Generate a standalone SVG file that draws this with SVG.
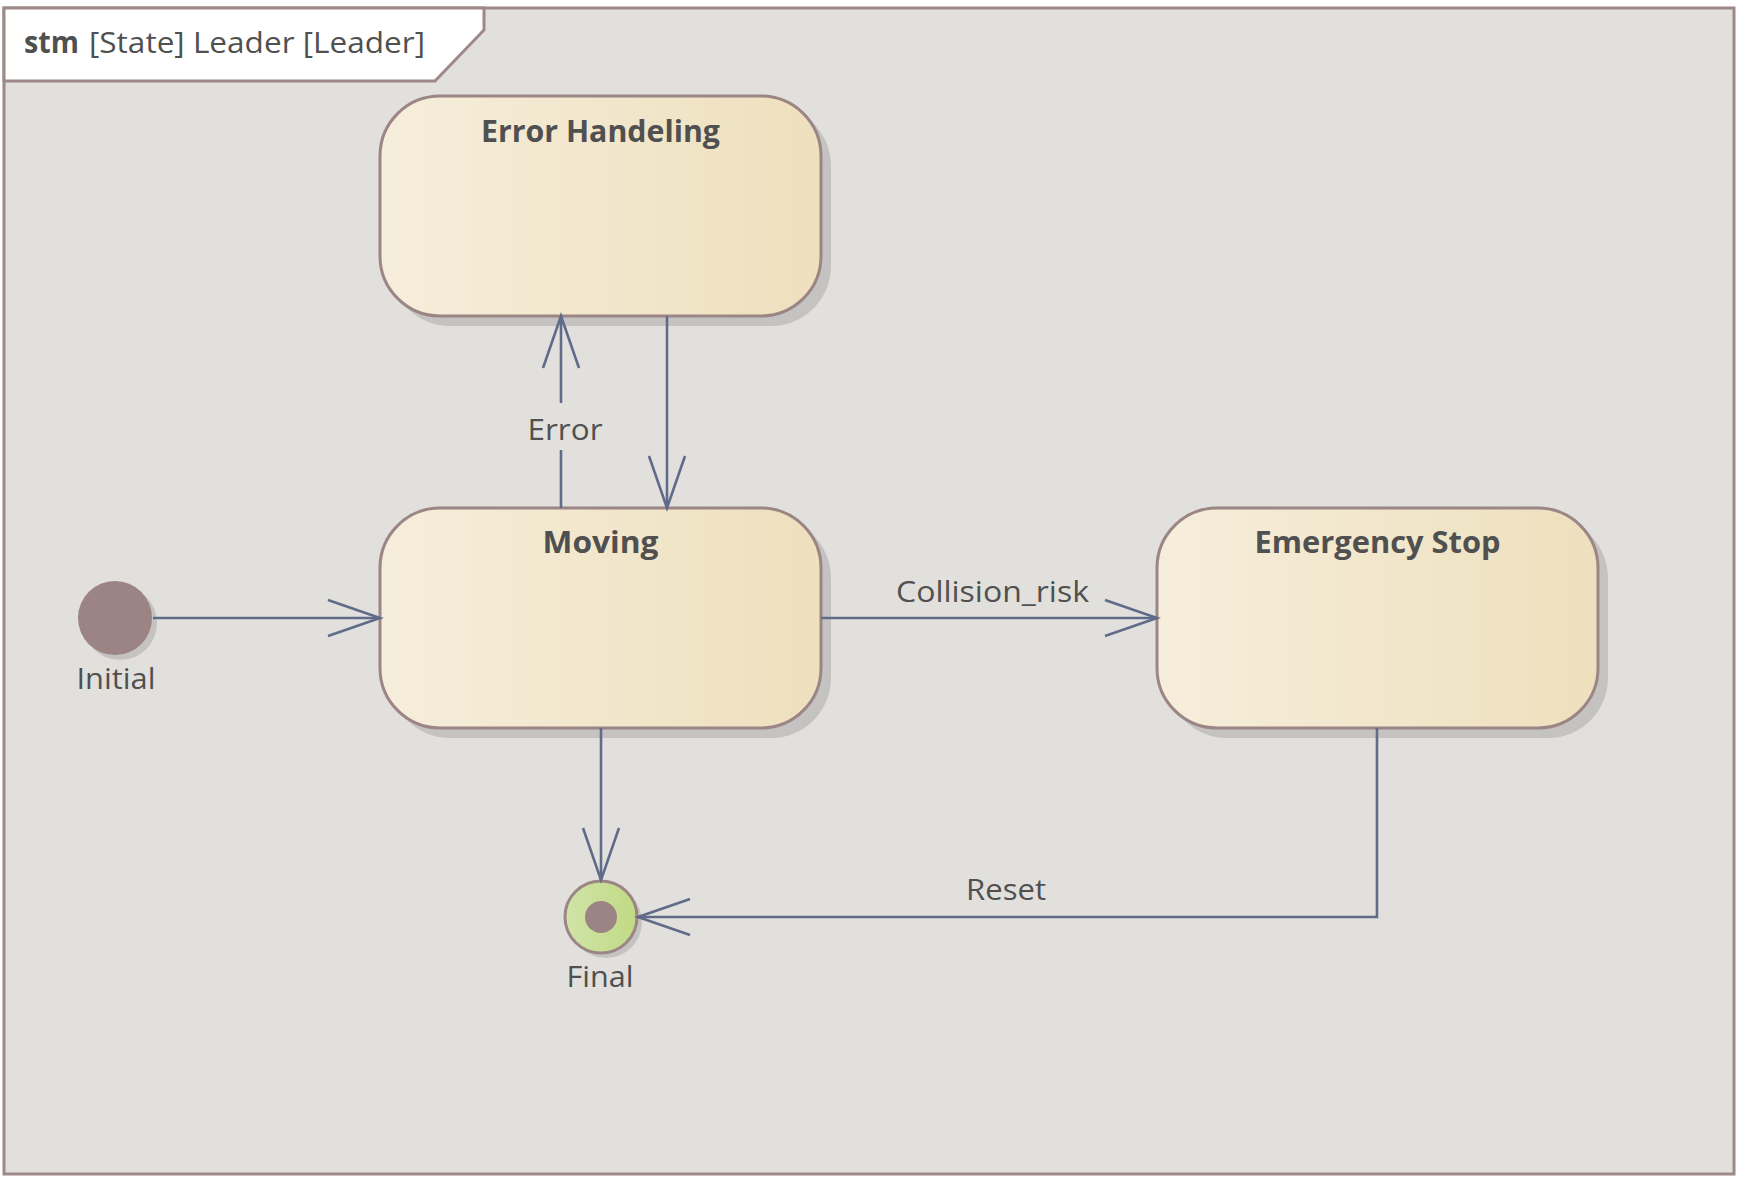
<svg xmlns="http://www.w3.org/2000/svg" width="1741" height="1179" viewBox="0 0 1741 1179">
  <style>
    .lbl { font-family: "Open Sans", "Noto Sans", "Liberation Sans", sans-serif; font-size: 30px; fill: #505050; }
    .bold { font-weight: bold; }
    .state { stroke: #9b8585; stroke-width: 3; fill: url(#stateGrad); }
    .shadow { fill: #c4c3c1; }
    .conn { fill: none; stroke: #5f6b88; stroke-width: 2.6; }
  </style>
  <defs>
    <linearGradient id="stateGrad" x1="0" y1="0" x2="1" y2="0">
      <stop offset="0" stop-color="#f6eedc"/>
      <stop offset="1" stop-color="#eee0bd"/>
    </linearGradient>
    <linearGradient id="finalGrad" x1="0" y1="0" x2="1" y2="0">
      <stop offset="0" stop-color="#d0e4a8"/>
      <stop offset="1" stop-color="#c0da84"/>
    </linearGradient>
    <marker id="open" markerUnits="userSpaceOnUse" viewBox="-58 -22 62 44" markerWidth="62" markerHeight="44" refX="0" refY="0" orient="auto">
      <path d="M-52,-18 L0,0 L-52,18" fill="none" stroke="#5f6b88" stroke-width="2.6"/>
    </marker>
  </defs>

  <rect x="0" y="0" width="1741" height="1179" fill="#ffffff"/>

  <g id="frame">
    <rect x="4" y="8" width="1730" height="1166" fill="#e1e0dc" stroke="#9e8888" stroke-width="3"/>
    <path d="M4,8 L484,8 L484,30 L435,81 L4,81 Z" fill="#ffffff" stroke="#9e8888" stroke-width="3"/>
    <text class="lbl bold" x="24" y="53" textLength="55" lengthAdjust="spacingAndGlyphs">stm</text>
    <text class="lbl" x="89" y="53" textLength="336" lengthAdjust="spacingAndGlyphs">[State] Leader [Leader]</text>
  </g>

  <g id="error-handeling">
    <rect class="shadow" x="390" y="106" width="441" height="220" rx="60" ry="60"/>
    <rect class="state" x="380" y="96" width="441" height="220" rx="60" ry="60"/>
    <text class="lbl bold" x="600.5" y="142" text-anchor="middle" textLength="239" lengthAdjust="spacingAndGlyphs">Error Handeling</text>
  </g>

  <g id="moving">
    <rect class="shadow" x="390" y="518" width="441" height="220" rx="60" ry="60"/>
    <rect class="state" x="380" y="508" width="441" height="220" rx="60" ry="60"/>
    <text class="lbl bold" x="600.5" y="553" text-anchor="middle" textLength="116" lengthAdjust="spacingAndGlyphs">Moving</text>
  </g>

  <g id="emergency-stop">
    <rect class="shadow" x="1167" y="518" width="441" height="220" rx="60" ry="60"/>
    <rect class="state" x="1157" y="508" width="441" height="220" rx="60" ry="60"/>
    <text class="lbl bold" x="1377.5" y="553" text-anchor="middle" textLength="246" lengthAdjust="spacingAndGlyphs">Emergency Stop</text>
  </g>

  <g id="initial">
    <circle cx="120" cy="623" r="37" fill="#c4c3c1"/>
    <circle cx="115" cy="618" r="37" fill="#9b8483"/>
    <text class="lbl" x="116" y="689" text-anchor="middle" textLength="79" lengthAdjust="spacingAndGlyphs">Initial</text>
  </g>

  <g id="final">
    <circle cx="606" cy="922" r="36" fill="#c4c3c1"/>
    <circle cx="601" cy="917" r="36" fill="url(#finalGrad)" stroke="#9b8585" stroke-width="3"/>
    <circle cx="601" cy="917" r="16" fill="#9b8483"/>
    <text class="lbl" x="600" y="987" text-anchor="middle" textLength="67" lengthAdjust="spacingAndGlyphs">Final</text>
  </g>

  <g id="connectors">
    <path class="conn" d="M153,618 L380,618" marker-end="url(#open)"/>
    <path class="conn" d="M561,508 L561,450 M561,403 L561,316" marker-end="url(#open)"/>
    <text class="lbl" x="565" y="440" text-anchor="middle" textLength="75" lengthAdjust="spacingAndGlyphs">Error</text>
    <path class="conn" d="M667,316 L667,508" marker-end="url(#open)"/>
    <path class="conn" d="M821,618 L1157,618" marker-end="url(#open)"/>
    <text class="lbl" x="992.5" y="602" text-anchor="middle" textLength="193" lengthAdjust="spacingAndGlyphs">Collision_risk</text>
    <path class="conn" d="M601,728 L601,880" marker-end="url(#open)"/>
    <path class="conn" d="M1377,728 L1377,917 L638,917" marker-end="url(#open)"/>
    <text class="lbl" x="1006" y="900" text-anchor="middle" textLength="80" lengthAdjust="spacingAndGlyphs">Reset</text>
  </g>
</svg>
